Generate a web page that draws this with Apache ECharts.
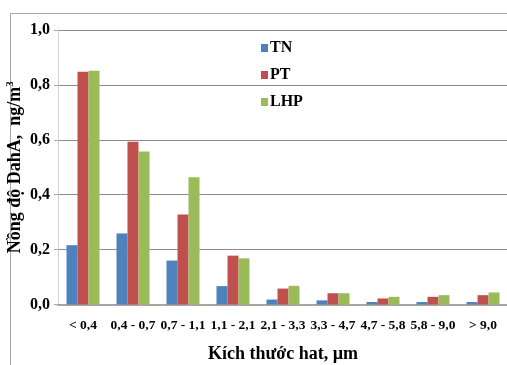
<!DOCTYPE html>
<html>
<head>
<meta charset="utf-8">
<script src="https://cdn.jsdelivr.net/npm/echarts@6/dist/echarts.min.js"></script>
<style>
  html, body { margin: 0; padding: 0; background: #fff; }
  #chart { width: 507px; height: 365px; }
</style>
</head>
<body>
<div id="chart"></div>
<script>
// Particle size classes (µm)
const sizeClasses = ['< 0,4', '0,4 - 0,7', '0,7 - 1,1', '1,1 - 2,1', '2,1 - 3,3', '3,3 - 4,7', '4,7 - 5,8', '5,8 - 9,0', '> 9,0'];
// DahA concentration per site, ng/m3
const seriesNames = ['TN', 'PT', 'LHP'];
const valuesTN  = [0.216, 0.259, 0.160, 0.067, 0.018, 0.015, 0.009, 0.009, 0.009];
const valuesPT  = [0.848, 0.593, 0.328, 0.178, 0.058, 0.041, 0.022, 0.028, 0.034];
const valuesLHP = [0.852, 0.557, 0.464, 0.168, 0.068, 0.041, 0.028, 0.034, 0.044];
const yTicks = [0, 0.2, 0.4, 0.6, 0.8, 1.0];

const colors = ['#4F81BD', '#C0504D', '#9BBB59'];
const serif = '"Liberation Serif", "DejaVu Serif", serif';

const chart = echarts.init(document.getElementById('chart'));
chart.setOption({
  animation: false,
  color: colors,
  graphic: [{
    type: 'rect',
    shape: { x: 10.5, y: 13.5, width: 520, height: 380 },
    style: { fill: 'none', stroke: '#a6a6a6', lineWidth: 1 },
    silent: true,
    z: -1
  }],
  grid: { left: 58, top: 30, width: 450, bottom: 60.5, containLabel: false, outerBoundsMode: 'none' },
  legend: {
    orient: 'vertical',
    left: 256,
    top: 35,
    itemWidth: 7,
    itemHeight: 8,
    itemGap: 11,
    icon: 'rect',
    textStyle: { fontFamily: serif, fontWeight: 'bold', fontSize: 16, color: '#000', padding: [0, 0, 0, -3] },
    data: seriesNames
  },
  xAxis: {
    type: 'category',
    data: sizeClasses,
    name: 'Kích thước hat, µm',
    nameLocation: 'middle',
    nameGap: 41,
    nameMoveOverlap: false,
    nameTextStyle: { fontFamily: serif, fontWeight: 'bold', fontSize: 18, color: '#000' },
    axisLine: { lineStyle: { color: '#a6a6a6', width: 2 } },
    axisTick: { show: false },
    axisLabel: { interval: 0, fontFamily: serif, fontWeight: 'bold', fontSize: 13.5, color: '#000', margin: 14 }
  },
  yAxis: {
    type: 'value',
    min: yTicks[0],
    max: yTicks[yTicks.length - 1],
    interval: 0.2,
    name: '{t|Nồng độ DahA,  ng/m}{s|3}',
    nameLocation: 'middle',
    nameGap: 33,
    nameMoveOverlap: false,
    nameRotate: 90,
    nameTextStyle: {
      rich: {
        t: { fontFamily: serif, fontWeight: 'bold', fontSize: 18, color: '#000' },
        s: { fontFamily: serif, fontWeight: 'bold', fontSize: 11, color: '#000', verticalAlign: 'top', padding: [0, 0, 9, 0] }
      }
    },
    axisLine: { show: true, lineStyle: { color: '#d0d0d0', width: 1 } },
    axisTick: { show: true, length: 4, lineStyle: { color: '#a6a6a6' } },
    splitLine: { lineStyle: { color: '#8c8c8c', width: 1 } },
    axisLabel: {
      fontFamily: serif, fontWeight: 'bold', fontSize: 16, color: '#000', margin: 8,
      formatter: v => v.toFixed(1).replace('.', ',')
    }
  },
  series: [
    { name: 'TN', type: 'bar', data: valuesTN, barWidth: 11, barGap: '0%', barCategoryGap: '34%' },
    { name: 'PT', type: 'bar', data: valuesPT, barWidth: 11, barGap: '0%' },
    { name: 'LHP', type: 'bar', data: valuesLHP, barWidth: 11, barGap: '0%' }
  ]
});
</script>
</body>
</html>
